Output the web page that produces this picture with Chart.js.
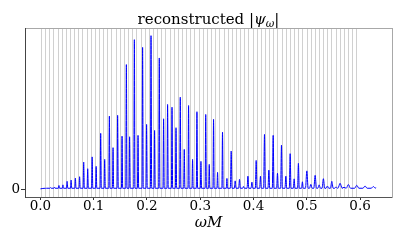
<!DOCTYPE html>
<html>
<head>
<meta charset="utf-8">
<script src="https://cdn.jsdelivr.net/npm/chart.js@4.4.0/dist/chart.umd.min.js"></script>
<style>
  body { margin: 0; background: #fff; }
</style>
</head>
<body>
<canvas id="c" width="407" height="244"></canvas>
<script>
// spike positions and heights of the reconstructed |psi|
var peakOmega = [0.0103, 0.0188, 0.0263, 0.0347, 0.0422, 0.0501, 0.0576, 0.0656, 0.0735, 0.0812,
  0.0887, 0.0971, 0.1046, 0.1131, 0.1206, 0.1294, 0.1363, 0.1449, 0.1532, 0.1613,
  0.1674, 0.1763, 0.1832, 0.1918, 0.1993, 0.2076, 0.2143, 0.2231, 0.2312, 0.2387,
  0.2470, 0.2545, 0.2625, 0.2700, 0.2781, 0.2856, 0.2938, 0.3013, 0.3103, 0.3169,
  0.3250, 0.3325, 0.3418, 0.3501, 0.3581, 0.3656, 0.3737, 0.3812, 0.3895, 0.3970,
  0.4050, 0.4131, 0.4206, 0.4288, 0.4369, 0.4450, 0.4525, 0.4607, 0.4688, 0.4763,
  0.4843, 0.4918, 0.5001, 0.5076, 0.5157, 0.5232, 0.5312, 0.5387, 0.5470, 0.5550,
  0.5625, 0.5700, 0.5781, 0.5938, 0.6094, 0.6250];

var peakPsi = [0.004, 0.011, 0.014, 0.025, 0.029, 0.052, 0.060, 0.073, 0.082, 0.177,
  0.134, 0.211, 0.149, 0.364, 0.195, 0.476, 0.271, 0.481, 0.346, 0.812,
  0.342, 0.974, 0.351, 0.924, 0.422, 1.000, 0.383, 0.855, 0.459, 0.552,
  0.534, 0.401, 0.599, 0.260, 0.545, 0.195, 0.505, 0.182, 0.487, 0.162,
  0.455, 0.110, 0.372, 0.071, 0.249, 0.055, 0.065, 0.019, 0.086, 0.047,
  0.188, 0.086, 0.357, 0.125, 0.351, 0.104, 0.288, 0.086, 0.232, 0.068,
  0.169, 0.049, 0.120, 0.032, 0.091, 0.029, 0.069, 0.021, 0.052, 0.016,
  0.039, 0.013, 0.031, 0.026, 0.021, 0.018];

// half width of each spike at its foot
var peakHalf = [0.0012, 0.0012, 0.0012, 0.0012, 0.0012, 0.0012, 0.0012, 0.0012, 0.0012, 0.0012,
  0.0012, 0.0012, 0.0012, 0.0012, 0.0012, 0.0012, 0.0012, 0.0012, 0.0012, 0.0012,
  0.0012, 0.0012, 0.0012, 0.0012, 0.0012, 0.0012, 0.0012, 0.0012, 0.0012, 0.0012,
  0.0012, 0.0012, 0.0012, 0.0012, 0.0012, 0.0012, 0.0012, 0.0012, 0.0012, 0.0012,
  0.0012, 0.0012, 0.0012, 0.0012, 0.0016, 0.0016, 0.0016, 0.0016, 0.0016, 0.0016,
  0.0016, 0.0016, 0.0016, 0.0016, 0.0016, 0.0016, 0.0016, 0.0016, 0.0016, 0.0016,
  0.0016, 0.0016, 0.0025, 0.0025, 0.0025, 0.0025, 0.0025, 0.0025, 0.0025, 0.0025,
  0.0040, 0.0040, 0.0040, 0.0040, 0.0040, 0.0040];

var floorPsi = 0.007;
var startPoint = [0.0, 0.003];
var endPoint = [0.6295, 0.012];

// frequencies marked by the vertical gray lines
var modes = [0.0019, 0.0097, 0.0175, 0.0253, 0.0331, 0.0409, 0.0486, 0.0564, 0.0642, 0.0720,
  0.0798, 0.0876, 0.0954, 0.1032, 0.1110, 0.1188, 0.1265, 0.1343, 0.1421, 0.1499,
  0.1577, 0.1655, 0.1733, 0.1811, 0.1889, 0.1967, 0.2044, 0.2122, 0.2200, 0.2278,
  0.2356, 0.2434, 0.2512, 0.2590, 0.2668, 0.2746, 0.2823, 0.2901, 0.2979, 0.3057,
  0.3135, 0.3213, 0.3291, 0.3369, 0.3447, 0.3525, 0.3602, 0.3680, 0.3758, 0.3836,
  0.3914, 0.3992, 0.4070, 0.4148, 0.4226, 0.4304, 0.4381, 0.4459, 0.4537, 0.4615,
  0.4693, 0.4771, 0.4849, 0.4927, 0.5005, 0.5083, 0.5160, 0.5238, 0.5316, 0.5394,
  0.5472, 0.5550, 0.5628, 0.5706, 0.5784, 0.5862, 0.5939];

var xTicks = [0.0, 0.1, 0.2, 0.3, 0.4, 0.5, 0.6];
var yTicks = [0];

var points = [{x: startPoint[0], y: startPoint[1]}];
for (var i = 0; i < peakOmega.length; i++) {
  points.push({x: peakOmega[i] - peakHalf[i], y: floorPsi});
  points.push({x: peakOmega[i], y: peakPsi[i]});
  points.push({x: peakOmega[i] + peakHalf[i], y: floorPsi});
}
points.push({x: endPoint[0], y: endPoint[1]});

Chart.defaults.font.family = '"DejaVu Serif"';
Chart.defaults.color = '#000';

var xMin = -0.029, xMax = 0.66;
var yMin = -0.05, yMax = 1.05;

// title with a subscript
var titlePlugin = {
  id: 'psiTitle',
  afterDraw: function(chart) {
    var ctx = chart.ctx;
    var area = chart.chartArea;
    var parts = [
      {t: 'reconstructed |', f: '15px "DejaVu Serif"', dy: 0},
      {t: 'ψ', f: 'italic 15px "DejaVu Serif"', dy: 0},
      {t: 'ω', f: 'italic 10.5px "DejaVu Serif"', dy: 3},
      {t: '|', f: '15px "DejaVu Serif"', dy: 0}
    ];
    var total = 0;
    parts.forEach(function(p) { ctx.font = p.f; p.w = ctx.measureText(p.t).width; total += p.w; });
    var x = (area.left + area.right) / 2 - total / 2;
    var y = 24;
    ctx.save();
    ctx.fillStyle = '#000';
    ctx.textBaseline = 'alphabetic';
    parts.forEach(function(p) {
      ctx.font = p.f;
      ctx.fillText(p.t, x, y + p.dy);
      x += p.w;
    });
    ctx.restore();
  }
};

var ctx = document.getElementById('c');
var chart = new Chart(ctx, {
  type: 'line',
  data: {
    datasets: [{
      data: points,
      borderColor: '#0000ff',
      borderWidth: 1,
      pointRadius: 0,
      fill: false,
      cubicInterpolationMode: 'monotone',
      xAxisID: 'x',
      yAxisID: 'y'
    }]
  },
  options: {
    responsive: false,
    animation: false,
    layout: { padding: { top: 28, right: 15, left: 0, bottom: 0 } },
    plugins: { legend: { display: false }, tooltip: { enabled: false }, title: { display: false } },
    scales: {
      x: {
        type: 'linear', position: 'bottom', min: xMin, max: xMax,
        afterBuildTicks: function(axis) { axis.ticks = xTicks.map(function(v) { return {value: v}; }); },
        ticks: {
          font: { size: 13.5 }, padding: -2, maxRotation: 0, autoSkip: false,
          callback: function(v) { return v.toFixed(1); }
        },
        grid: { drawOnChartArea: false, tickLength: 3, color: '#333' },
        border: { color: '#555', width: 1 },
        title: { display: true, text: 'ωM', padding: { top: 0, bottom: 12 }, font: { size: 15, style: 'italic' } },
        afterFit: function(axis) { axis.height = 47; }
      },
      modes: {
        type: 'linear', position: 'top', min: xMin, max: xMax,
        afterBuildTicks: function(axis) { axis.ticks = modes.map(function(v) { return {value: v}; }); },
        ticks: { display: false },
        grid: { color: '#d0d0d0', lineWidth: 1, drawTicks: false },
        border: { color: '#a8a8a8', width: 1 },
        afterFit: function(axis) { axis.height = 0; }
      },
      y: {
        type: 'linear', position: 'left', min: yMin, max: yMax,
        afterBuildTicks: function(axis) { axis.ticks = yTicks.map(function(v) { return {value: v}; }); },
        ticks: { font: { size: 13.5 }, padding: 1 },
        grid: { drawOnChartArea: false, tickLength: 4, color: '#333' },
        border: { color: '#444', width: 1 },
        afterFit: function(axis) { axis.width = 25; }
      },
      yr: {
        type: 'linear', position: 'right', min: yMin, max: yMax,
        ticks: { display: false },
        grid: { display: false },
        border: { color: '#a8a8a8', width: 1 },
        afterFit: function(axis) { axis.width = 0; }
      }
    }
  },
  plugins: [titlePlugin]
});
</script>
</body>
</html>
